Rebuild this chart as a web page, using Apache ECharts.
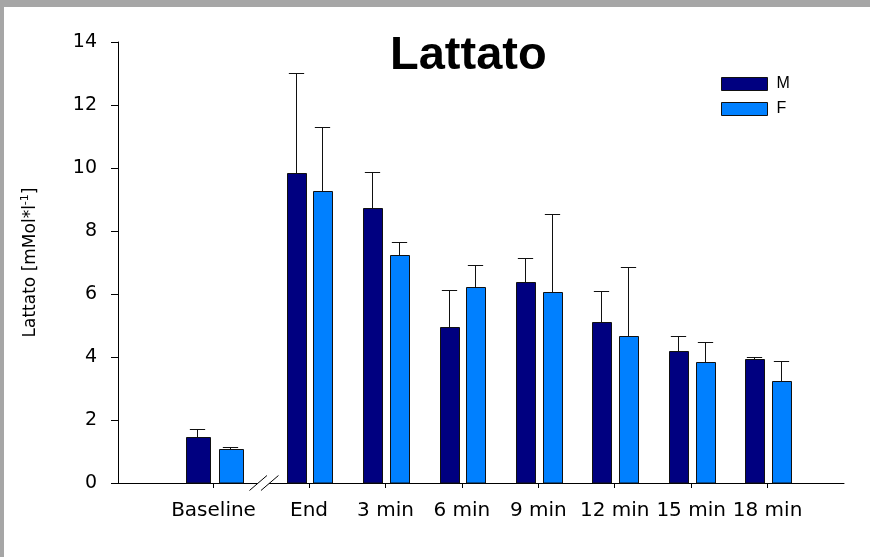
<!DOCTYPE html>
<html><head><meta charset="utf-8">
<script src="https://cdn.jsdelivr.net/npm/echarts@6/dist/echarts.min.js"></script>
<style>
html,body{margin:0;padding:0;background:#a6a6a6;width:870px;height:557px;overflow:hidden}
#c{position:absolute;left:4px;top:7px;width:866px;height:550px;background:#fff}
</style></head>
<body><div id="c"></div>
<script>
const categories = ['Baseline', 'End', '3 min', '6 min', '9 min', '12 min', '15 min', '18 min'];
const meanM = [1.45, 9.83, 8.72, 4.94, 6.37, 5.12, 4.18, 3.93];
const sdM   = [0.27, 3.19, 1.16, 1.18, 0.78, 0.98, 0.49, 0.06];
const meanF = [1.07, 9.27, 7.23, 6.22, 6.07, 4.68, 3.83, 3.23];
const sdF   = [0.07, 2.04, 0.41, 0.71, 2.47, 2.18, 0.64, 0.63];
const seriesNames = ['M', 'F'];

const FONT = "'Liberation Sans', Arial, sans-serif";
const WFONT = "'DejaVu Sans', sans-serif";
const colM = '#000080', colF = '#0080ff';

// broken axis: Baseline sits before the break, with its own (wider) scale
function xPos(i) { return i === 0 ? -0.25 : i; }
function segScale(i) { return i === 0 ? 1.24 : 1; }
const tickPositions = categories.map((c, i) => xPos(i));
const breakAt = 0.41;

function barSeries(name, means, sds, color, side) {
  return {
    type: 'custom', name: name, z: 3,
    itemStyle: { color: color },
    data: means.map((m, i) => [xPos(i), m, m + sds[i], i]),
    renderItem: function (params, api) {
      const i = api.value(3), k = segScale(i);
      const unit = api.size([1, 0])[0];
      const base = api.coord([api.value(0), 0]);
      const top = api.coord([api.value(0), api.value(1)]);
      const et = api.coord([api.value(0), api.value(2)]);
      const cx = Math.round(base[0] + side * 0.175 * unit * k) + 0.5;
      const w = Math.round(0.252 * unit * k);
      const cap = 0.1 * unit;
      const ty = Math.round(top[1]) + 0.5, ey = Math.round(et[1]) + 0.5;
      return {
        type: 'group',
        children: [
          { type: 'line', shape: { x1: cx, y1: ty, x2: cx, y2: ey }, style: { stroke: '#111', lineWidth: 1 } },
          { type: 'line', shape: { x1: cx - cap, y1: ey, x2: cx + cap, y2: ey }, style: { stroke: '#111', lineWidth: 1 } },
          { type: 'rect', shape: { x: Math.round(cx - w / 2) + 0.5, y: ty, width: w, height: Math.round(base[1]) - ty },
            style: { fill: color, stroke: '#111', lineWidth: 1 } }
        ]
      };
    }
  };
}

const chart = echarts.init(document.getElementById('c'), null, { renderer: 'canvas' });
chart.setOption({
  animation: false,
  backgroundColor: '#fff',
  color: [colM, colF],
  title: {
    text: 'Lattato', left: 381, top: 21,
    textStyle: { fontFamily: FONT, fontSize: 47, fontWeight: 'bold', color: '#000' }
  },
  legend: {
    data: seriesNames, orient: 'vertical', left: 712, top: 64,
    icon: 'rect', itemWidth: 46, itemHeight: 13, itemGap: 9,
    itemStyle: { borderColor: '#111', borderWidth: 1 },
    textStyle: { fontFamily: FONT, fontSize: 16, color: '#000', lineHeight: 13, padding: [0, 0, 0, 4] }
  },
  grid: { left: 114, right: 26, top: 35, bottom: 74 },
  xAxis: {
    type: 'value', min: -1.5, max: 8,
    splitLine: { show: false },
    axisLine: { show: true, lineStyle: { color: '#000', width: 1 } },
    axisTick: { show: true, customValues: tickPositions, length: 5, lineStyle: { color: '#000' } },
    axisLabel: {
      customValues: tickPositions, margin: 18,
      fontFamily: WFONT, fontSize: 20, color: '#000',
      formatter: function (v) {
        const idx = tickPositions.findIndex(p => Math.abs(p - v) < 1e-6);
        return idx >= 0 ? categories[idx] : '';
      }
    }
  },
  yAxis: {
    type: 'value', min: 0, max: 14, interval: 2,
    splitLine: { show: false },
    axisLine: { show: true, onZero: false, lineStyle: { color: '#000', width: 1 } },
    axisTick: { show: true, length: 7, lineStyle: { color: '#000' } },
    axisLabel: { margin: 21, fontFamily: WFONT, fontSize: 19, color: '#000' },
    name: '{a|Lattato [mMol*l}{s|-1}{a|]}',
    nameLocation: 'middle', nameGap: 76, nameRotate: 90,
    nameTextStyle: {
      fontFamily: WFONT, color: '#000',
      rich: {
        a: { fontFamily: WFONT, fontSize: 17, color: '#000', lineHeight: 22 },
        s: { fontFamily: WFONT, fontSize: 11, color: '#000', verticalAlign: 'top', lineHeight: 22 }
      }
    }
  },
  series: [
    barSeries('M', meanM, sdM, colM, -1),
    barSeries('F', meanF, sdF, colF, 1),
    {
      type: 'custom', z: 4, silent: true,
      data: [[breakAt, 0]],
      renderItem: function (params, api) {
        const c = api.coord([api.value(0), api.value(1)]);
        const x = c[0], y = Math.round(c[1]) + 0.5;
        return {
          type: 'group',
          children: [
            { type: 'rect', shape: { x: x - 6.5, y: y - 2, width: 11.5, height: 4 }, style: { fill: '#fff' } },
            { type: 'line', shape: { x1: x - 14.5, y1: y + 7, x2: x + 3, y2: y - 8 }, style: { stroke: '#000', lineWidth: 1 } },
            { type: 'line', shape: { x1: x - 3, y1: y + 7, x2: x + 14.5, y2: y - 8 }, style: { stroke: '#000', lineWidth: 1 } }
          ]
        };
      }
    }
  ]
});
</script>
</body></html>
